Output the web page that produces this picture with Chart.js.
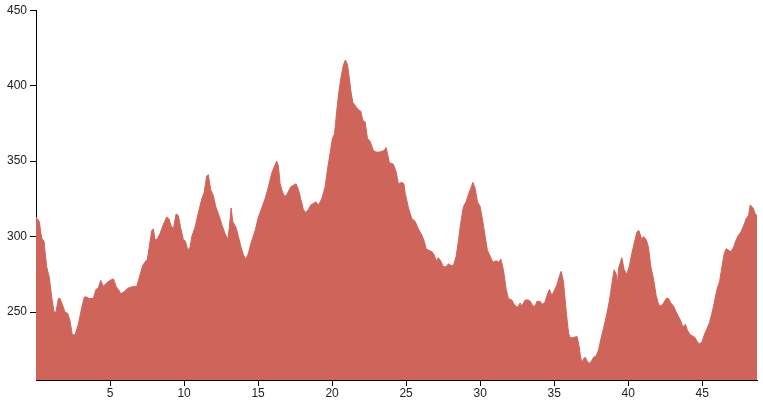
<!DOCTYPE html>
<html>
<head>
<meta charset="utf-8">
<script src="https://cdn.jsdelivr.net/npm/chart.js@4/dist/chart.umd.min.js"></script>
<style>
html,body{margin:0;padding:0;background:#fff;}
#wrap{width:763px;height:400px;}
</style>
</head>
<body>
<div id="wrap"><canvas id="c" width="763" height="400"></canvas></div>
<script>
const distanceKm = [0,0.22,0.38,0.54,0.72,0.90,1.06,1.22,1.35,1.51,1.62,1.78,1.96,2.14,2.30,2.45,2.64,2.86,3.09,3.27,3.42,3.60,3.87,4.05,4.21,4.37,4.55,4.73,5.0,5.23,5.41,5.56,5.74,6.01,6.24,6.58,6.80,6.98,7.21,7.43,7.52,7.66,7.82,7.93,8.04,8.16,8.38,8.60,8.83,8.97,9.17,9.30,9.46,9.61,9.77,9.95,10.1,10.25,10.41,10.52,10.74,10.97,11.2,11.35,11.53,11.64,11.80,11.98,12.14,12.36,12.55,12.77,12.95,13.06,13.18,13.29,13.51,13.67,13.85,14.01,14.17,14.35,14.5,14.8,15.02,15.25,15.47,15.7,15.92,16.08,16.26,16.37,16.49,16.6,16.76,16.9,17.05,17.21,17.39,17.57,17.73,17.88,18.06,18.22,18.4,18.56,18.74,18.9,19.08,19.3,19.53,19.68,19.86,20.02,20.16,20.32,20.47,20.61,20.77,20.9,21.04,21.15,21.26,21.4,21.62,21.78,21.94,22.07,22.23,22.39,22.57,22.79,22.97,23.2,23.51,23.65,23.74,23.87,24.14,24.32,24.48,24.71,24.85,24.93,25.16,25.38,25.61,25.83,26.06,26.22,26.35,26.51,26.74,26.89,27.03,27.18,27.33,27.52,27.7,27.86,28.0,28.2,28.38,28.54,28.69,28.87,29.05,29.21,29.37,29.51,29.66,29.82,30.0,30.18,30.34,30.49,30.68,30.86,31.08,31.25,31.4,31.57,31.76,31.91,32.14,32.3,32.52,32.7,32.81,33.04,33.26,33.4,33.56,33.72,33.83,34.05,34.23,34.39,34.55,34.68,34.84,35.0,35.18,35.36,35.47,35.63,35.81,35.97,36.08,36.3,36.53,36.64,36.76,36.87,36.98,37.1,37.25,37.43,37.66,37.84,38.0,38.15,38.33,38.56,38.74,38.9,39.05,39.19,39.28,39.35,39.57,39.73,39.91,40.09,40.25,40.41,40.59,40.72,40.93,41.03,41.22,41.37,41.53,41.71,41.89,42.05,42.21,42.39,42.57,42.72,42.88,43.06,43.24,43.4,43.56,43.69,43.86,44.0,44.19,44.37,44.53,44.68,44.82,44.98,45.14,45.32,45.49,45.65,45.81,45.99,46.17,46.33,46.49,46.62,46.78,46.94,47.12,47.3,47.45,47.61,47.79,47.97,48.13,48.24,48.43,48.58,48.7];
const elevationM = [313,310,299,297,280,273,260,250,250,259,259,255,250,249,244,235,235,242,253,260,260,259,259,265,266,271,267,269,271,272,267,265,262,264,266,267,267,273,281,284,285,294,304,305,298,298,302,308,313,312,306,306,315,314,306,298,297,291,293,300,306,316,325,329,340,341,331,327,320,314,308,302,298,306,319,310,306,300,293,288,285,289,295,304,313,319,325,333,342,346,350,347,335,331,327,327,330,333,334,335,331,325,318,316,318,321,322,323,321,325,333,344,355,365,368,384,397,406,414,417,414,406,397,389,386,384,383,377,376,365,363,357,356,356,357,359,355,349,348,343,335,336,335,329,319,312,310,305,301,297,292,291,290,288,284,286,284,280,280,282,281,281,287,298,309,320,323,328,332,336,332,323,320,310,300,291,287,283,284,283,285,278,265,259,258,255,253,256,254,258,258,257,254,254,257,257,255,257,262,265,261,264,268,274,277,270,251,236,233,233,234,230,222,216,219,220,217,216,220,221,225,232,239,249,258,269,278,275,269,279,286,278,275,281,289,296,303,304,298,300,298,293,280,272,261,255,254,256,259,259,256,254,250,247,244,240,242,238,235,234,233,230,229,230,235,239,243,249,256,265,270,280,289,292,291,290,293,298,301,303,307,312,314,321,319,315,314];
const xTickValues = [5,10,15,20,25,30,35,40,45];
const yTickValues = [250,300,350,400,450];

const points = distanceKm.map((d,i)=>({x:d,y:elevationM[i]}));
const tickFont = {family:"'Liberation Sans', Arial, sans-serif", size:12};

new Chart(document.getElementById('c'), {
  type:'line',
  data:{datasets:[{
    data:points,
    borderColor:'#cf655a',
    backgroundColor:'#cf655a',
    borderWidth:1,
    fill:'start',
    pointRadius:0,
    tension:0
  }]},
  options:{
    responsive:false,
    animation:false,
    layout:{padding:{top:10,right:6,left:0,bottom:0}},
    plugins:{legend:{display:false},tooltip:{enabled:false}},
    scales:{
      x:{
        type:'linear',
        min:0,max:48.7,
        afterBuildTicks:(s)=>{s.ticks = xTickValues.map(v=>({value:v}));},
        afterFit:(s)=>{s.height=20;},
        grid:{display:true,drawOnChartArea:false,drawTicks:true,tickLength:6,color:'#000'},
        border:{display:true,color:'#000',width:1},
        ticks:{font:tickFont,color:'#222',padding:0,maxRotation:0,autoSkip:false}
      },
      y:{
        min:205,max:450,
        afterBuildTicks:(s)=>{s.ticks = yTickValues.map(v=>({value:v}));},
        afterFit:(s)=>{s.width=36;},
        grid:{display:true,drawOnChartArea:false,drawTicks:true,tickLength:6,color:'#000'},
        border:{display:true,color:'#000',width:1},
        ticks:{font:tickFont,color:'#222',padding:3,autoSkip:false}
      }
    }
  }
});
</script>
</body>
</html>
